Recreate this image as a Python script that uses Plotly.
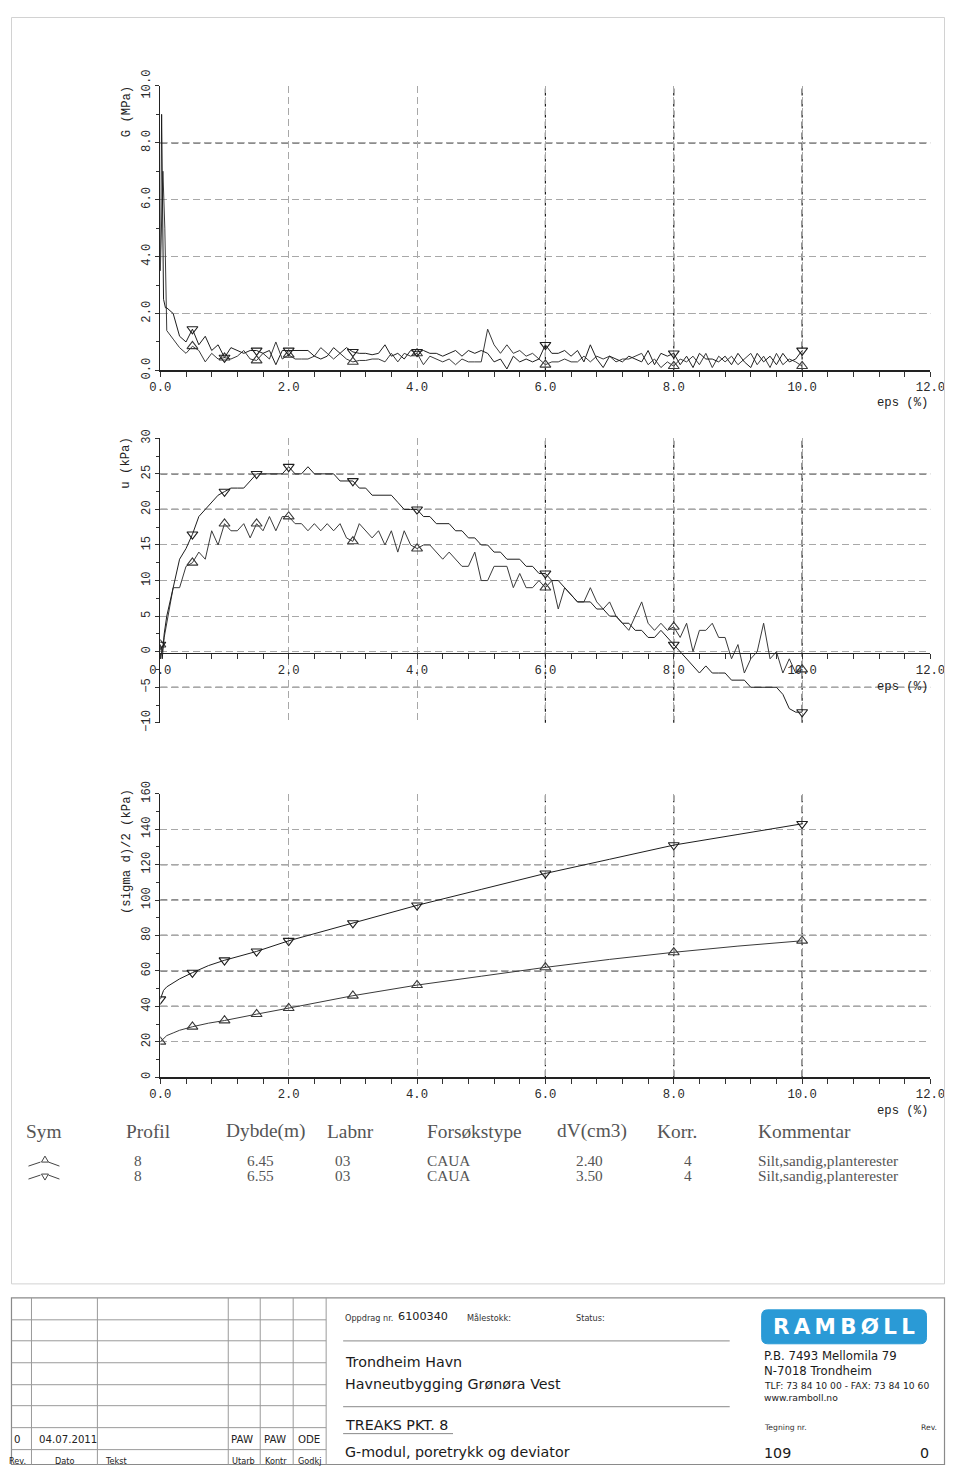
import plotly.graph_objects as go

W, H = 960, 1474

# ---------------- data ----------------
EPS_STEP = [0.1, 0.2, 0.3, 0.4, 0.5, 0.6, 0.7, 0.8, 0.9, 1.0,
            1.1, 1.2, 1.3, 1.4, 1.5, 1.6, 1.7, 1.8, 1.9, 2.0,
            2.1, 2.2, 2.3, 2.4, 2.5, 2.6, 2.7, 2.8, 2.9, 3.0,
            3.1, 3.2, 3.3, 3.4, 3.5, 3.6, 3.7, 3.8, 3.9, 4.0,
            4.1, 4.2, 4.3, 4.4, 4.5, 4.6, 4.7, 4.8, 4.9, 5.0,
            5.1, 5.2, 5.3, 5.4, 5.5, 5.6, 5.7, 5.8, 5.9, 6.0,
            6.1, 6.2, 6.3, 6.4, 6.5, 6.6, 6.7, 6.8, 6.9, 7.0,
            7.1, 7.2, 7.3, 7.4, 7.5, 7.6, 7.7, 7.8, 7.9, 8.0,
            8.1, 8.2, 8.3, 8.4, 8.5, 8.6, 8.7, 8.8, 8.9, 9.0,
            9.1, 9.2, 9.3, 9.4, 9.5, 9.6, 9.7, 9.8, 9.9, 10.0]

# G (MPa) -- "up" = triangle-up (6.45 m), "down" = triangle-down (6.55 m)
G_HEAD_EPS_DOWN = [0.0, 0.02, 0.05, 0.08]
G_HEAD_DOWN = [3.5, 9.0, 2.5, 2.2]
G_HEAD_EPS_UP = [0.0, 0.04, 0.07, 0.09]
G_HEAD_UP = [3.5, 7.0, 5.0, 1.6]
G_DOWN = [2.2, 2.0, 1.2, 1.0, 1.45, 0.9, 1.2, 0.7, 0.9, 0.45,
          0.8, 0.7, 0.6, 0.7, 0.7, 0.6, 0.7, 0.2, 0.7, 0.7,
          0.7, 0.7, 0.7, 0.5, 0.4, 0.5, 0.8, 0.6, 0.8, 0.65,
          0.6, 0.6, 0.55, 0.6, 0.9, 0.5, 0.6, 0.4, 0.7, 0.65,
          0.7, 0.6, 0.6, 0.5, 0.6, 0.7, 0.5, 0.7, 0.6, 0.7,
          0.6, 0.3, 0.4, 0.05, 0.5, 0.3, 0.4, 0.3, 0.4, 0.9,
          0.6, 0.6, 0.7, 0.5, 0.7, 0.3, 0.9, 0.4, 0.1, 0.5,
          0.4, 0.3, 0.5, 0.4, 0.3, 0.7, 0.2, 0.6, 0.5, 0.6,
          0.2, 0.5, 0.1, 0.6, 0.4, 0.4, 0.3, 0.5, 0.2, 0.6,
          0.3, 0.1, 0.6, 0.3, 0.5, 0.2, 0.6, 0.3, 0.4, 0.7]
G_UP = [1.4, 1.1, 0.8, 0.6, 0.85, 0.7, 0.3, 0.6, 0.4, 0.45,
        0.4, 0.5, 0.7, 0.4, 0.35, 0.6, 0.4, 1.0, 0.4, 0.55,
        0.4, 0.4, 0.4, 0.5, 0.8, 0.6, 0.4, 0.6, 0.4, 0.3,
        0.35, 0.35, 0.4, 0.4, 0.3, 0.6, 0.3, 0.6, 0.5, 0.6,
        0.2, 0.5, 0.4, 0.3, 0.4, 0.2, 0.4, 0.3, 0.3, 0.3,
        1.45, 0.9, 0.6, 0.9, 0.6, 0.7, 0.5, 0.6, 0.4, 0.2,
        0.3, 0.3, 0.4, 0.3, 0.3, 0.5, 0.3, 0.5, 0.4, 0.5,
        0.3, 0.4, 0.4, 0.5, 0.6, 0.2, 0.4, 0.1, 0.3, 0.15,
        0.4, 0.3, 0.5, 0.2, 0.6, 0.1, 0.5, 0.3, 0.5, 0.2,
        0.4, 0.6, 0.2, 0.5, 0.1, 0.6, 0.2, 0.4, 0.3, 0.15]

# u (kPa)
U_HEAD_EPS = [0.0, 0.03, 0.06]
U_HEAD_DOWN = [1.0, -1.0, 2.5]
U_HEAD_UP = [1.0, 0.0, 2.0]
U_DOWN = [5, 9, 13, 14.5, 16.5, 19, 20, 21, 22, 22.5,
          23, 23, 23, 24, 25, 25, 25, 25, 25, 26,
          25, 25, 26, 25, 25, 25, 25, 24, 24, 24,
          23, 23, 22, 22, 22, 22, 21, 20, 20, 20,
          19, 19, 18, 18, 18, 17, 17, 16, 16, 15,
          15, 14, 14, 13, 13, 13, 12, 12, 11, 11,
          10, 10, 9, 8, 7, 7, 7, 6, 6, 5,
          5, 4, 4, 3, 3, 2, 2, 3, 2, 1,
          0, -1, -2, -3, -2, -3, -3, -3, -4, -4,
          -4, -5, -5, -5, -5, -5, -6, -8, -8.5, -8.5]
U_UP = [4, 9, 9, 12, 12.5, 14, 13, 17, 15, 18,
        17, 17, 18, 16, 18, 17, 19, 17, 19, 19,
        18, 18, 17, 18, 17, 18, 17, 18, 16, 15.5,
        18, 17, 16, 17, 15, 17, 14, 17, 15, 14.5,
        15, 15, 14, 13, 14, 13, 12, 12, 14, 10,
        10, 12, 12, 12, 9, 11, 9, 9, 10, 9,
        10, 6, 9, 8, 7, 7, 9, 7, 6, 7,
        5, 4, 3, 5, 7, 4, 3, 4, 3, 3.5,
        2, 4, 0, 3, 3, 4, 2, 2, -1, 1,
        -3, -1, 0, 4, -1, 0, -3, -1, -3, -2.5]

# (sigma d)/2 (kPa)
S_EPS = [0.0, 0.05, 0.1, 0.2, 0.3, 0.5, 0.75, 1.0, 1.25, 1.5, 2.0, 2.5,
         3.0, 3.5, 4.0, 5.0, 6.0, 7.0, 8.0, 9.0, 10.0]
S_DOWN = [44, 49, 51, 53.5, 55.5, 59, 63, 66, 68.5, 71, 77, 82,
          87, 92, 97, 106, 115, 123, 131, 137, 143]
S_UP = [20, 22, 23.5, 25, 26.5, 28.5, 30.5, 32, 34, 35.6, 39, 42.5,
        46, 49, 52, 57, 62, 66.5, 70.5, 74, 77]

MARKER_EPS = [0.0, 0.5, 1.0, 1.5, 2.0, 3.0, 4.0, 6.0, 8.0, 10.0]

X_TICKS = [0, 2, 4, 6, 8, 10, 12]
X_TICK_TEXT = ["0.0", "2.0", "4.0", "6.0", "8.0", "10.0", "12.0"]

LEGEND_HEADERS = ["Sym", "Profil", "Dybde(m)", "Labnr", "Forsøkstype",
                  "dV(cm3)", "Korr.", "Kommentar"]
PROFIL = ["8", "8"]
DYBDE = ["6.45", "6.55"]
LABNR = ["03", "03"]
FORSOKSTYPE = ["CAUA", "CAUA"]
DV = ["2.40", "3.50"]
KORR = ["4", "4"]
KOMMENTAR = ["Silt,sandig,planterester", "Silt,sandig,planterester"]

# ---------------- helpers ----------------
# the photographed page shows the figure slightly inset/scaled; place
# everything so that it lands on the reference's pixel positions
OX, SX, OY, SY = 10.5, 0.974, 15.0, 0.984
FS = 1.02


def fx(x):
    return min(max((x - OX) / SX, 0.5), W - 0.5)


def fy(y):
    return min(max((y - OY) / SY, 0.5), H - 0.5)


def PX(x):
    return fx(x) / W


def PY(y):
    return 1 - fy(y) / H


def at(eps_list, vals, e):
    i = min(range(len(eps_list)), key=lambda k: abs(eps_list[k] - e))
    return vals[i]


MONO = "Liberation Mono"
SERIF = "Liberation Serif"
SANS = "DejaVu Sans"
LC_DOWN = "#1e1e1e"
LC_UP = "#3a3a3a"

fig = go.Figure()


def add_pair(xs, ys, mx, my, sym, color, xa, ya):
    fig.add_trace(go.Scatter(x=xs, y=ys, mode="lines", xaxis=xa, yaxis=ya,
                             line=dict(color=color, width=1), showlegend=False,
                             hoverinfo="skip"))
    fig.add_trace(go.Scatter(x=mx, y=my, mode="markers", xaxis=xa, yaxis=ya,
                             marker=dict(symbol=sym, size=9.5, color=color,
                                         line=dict(width=1.1, color=color)),
                             showlegend=False, hoverinfo="skip"))


gx_d = G_HEAD_EPS_DOWN + EPS_STEP
gy_d = G_HEAD_DOWN + G_DOWN
gx_u = G_HEAD_EPS_UP + EPS_STEP
gy_u = G_HEAD_UP + G_UP
mk_g = MARKER_EPS[1:]
add_pair(gx_u, gy_u, mk_g, [at(gx_u, gy_u, e) for e in mk_g], "triangle-up-open", LC_UP, "x", "y")
add_pair(gx_d, gy_d, mk_g, [at(gx_d, gy_d, e) for e in mk_g], "triangle-down-open", LC_DOWN, "x", "y")

ux = U_HEAD_EPS + EPS_STEP
uy_d = U_HEAD_DOWN + U_DOWN
uy_u = U_HEAD_UP + U_UP
add_pair(ux, uy_u, MARKER_EPS, [at(ux, uy_u, e) for e in MARKER_EPS], "triangle-up-open", LC_UP, "x2", "y2")
add_pair(ux, uy_d, MARKER_EPS, [at(ux, uy_d, e) for e in MARKER_EPS], "triangle-down-open", LC_DOWN, "x2", "y2")

add_pair(S_EPS, S_UP, MARKER_EPS, [at(S_EPS, S_UP, e) for e in MARKER_EPS], "triangle-up-open", LC_UP, "x3", "y3")
add_pair(S_EPS, S_DOWN, MARKER_EPS, [at(S_EPS, S_DOWN, e) for e in MARKER_EPS], "triangle-down-open", LC_DOWN, "x3", "y3")

# ---------------- axes ----------------
XDOM = [PX(160), PX(931)]
GRID = dict(showgrid=True, gridcolor="#a8a8a8", gridwidth=1, griddash="7px,4px")
TICKFONT = dict(family=MONO, size=12 * FS, color="#2a2a2a")


def xcfg(anchor, position=None):
    d = dict(domain=XDOM, range=[0, 12], tickvals=X_TICKS, ticktext=X_TICK_TEXT,
             showline=True, linecolor="#222", linewidth=1.3, zeroline=False,
             ticks="outside", ticklen=5, tickcolor="#333", tickfont=TICKFONT,
             minor=dict(dtick=0.4, tick0=0, ticks="outside", ticklen=5, tickcolor="#333", showgrid=False),
             fixedrange=True, **GRID)
    if position is None:
        d["anchor"] = anchor
    else:
        d["anchor"] = "free"
        d["position"] = position
    return d


def ycfg(anchor, dom, rng, dtick, minor, fmt):
    return dict(domain=dom, range=rng, dtick=dtick, tick0=rng[0], anchor=anchor,
                showline=True, linecolor="#222", linewidth=1.2, zeroline=False,
                ticks="outside", ticklen=4, tickcolor="#333", tickfont=TICKFONT,
                tickangle=-90, tickformat=fmt,
                minor=dict(dtick=minor, ticks="outside", ticklen=3, tickcolor="#333", showgrid=False),
                fixedrange=True, **GRID)


fig.update_layout(
    xaxis=xcfg("y"),
    yaxis=ycfg("x", [PY(369), PY(84)], [0, 10], 2, 1, ".1f"),
    xaxis2=xcfg("y2", position=PY(652)),
    yaxis2=ycfg("x2", [PY(722), PY(437)], [-10, 30], 5, 2.5, "d"),
    xaxis3=xcfg("y3"),
    yaxis3=ycfg("x3", [PY(1077), PY(793)], [0, 160], 20, 10, "d"),
)

# ---------------- shapes ----------------
shapes = []
DARK = dict(color="#1a1a1a", width=1.2, dash="7px,4px")
DARK_GRID = {
    ("x", "y"): ([6, 8, 10], [8, 2]),
    ("x2", "y2"): ([6, 8, 10], [25, 20, -5]),
    ("x3", "y3"): ([6, 8, 10], [120, 100, 80, 60, 40]),
}
for (xa, ya), (vx, vy) in DARK_GRID.items():
    for v in vx:
        shapes.append(dict(type="line", xref=xa, yref=ya + " domain", x0=v, x1=v, y0=0, y1=1,
                           line=DARK, layer="below"))
    for v in vy:
        shapes.append(dict(type="line", xref=xa + " domain", yref=ya, x0=0, x1=1, y0=v, y1=v,
                           line=DARK, layer="below"))


def pline(x0, y0, x1, y1, color="#9a9a9a", width=1):
    shapes.append(dict(type="line", xref="paper", yref="paper", x0=PX(x0), y0=PY(y0),
                       x1=PX(x1), y1=PY(y1), line=dict(color=color, width=width)))


shapes.append(dict(type="rect", xref="paper", yref="paper", x0=PX(2), x1=PX(958), y0=PY(1284), y1=PY(2),
                   line=dict(color="#d2d2d2", width=1)))
shapes.append(dict(type="rect", xref="paper", yref="paper", x0=PX(2), x1=PX(958), y0=PY(1472), y1=PY(1298),
                   line=dict(color="#8a8a8a", width=1.2)))
for yy in [1320, 1341, 1363, 1385, 1406, 1428, 1450]:
    pline(2, yy, 326, yy)
for xx in [31, 97, 228, 260, 293, 326]:
    pline(xx, 1298, xx, 1472)
pline(343, 1341, 730, 1341, "#a0a0a0", 1.2)
pline(343, 1407, 730, 1407, "#a0a0a0", 1.2)
pline(343, 1434, 453, 1434, "#888", 1)

for yb, up in [(1162, True), (1175, False)]:
    pline(28, yb + 4, 40, yb, "#444", 1)
    pline(48, yb, 59, yb + 4, "#444", 1)
    if up:
        pts = [(41, yb), (44.5, yb - 6), (48, yb)]
    else:
        pts = [(41, yb - 1), (48, yb - 1), (44.5, yb + 5)]
    path = "M " + " L ".join(f"{PX(a)},{PY(b)}" for a, b in pts) + " Z"
    shapes.append(dict(type="path", xref="paper", yref="paper", path=path,
                       line=dict(color="#444", width=1)))

lx0, lx1, ly0, ly1, r = 762, 927, 1310, 1344, 6
logo_pts = (f"M {PX(lx0 + r)},{PY(ly0)} L {PX(lx1 - r)},{PY(ly0)} "
            f"Q {PX(lx1)},{PY(ly0)} {PX(lx1)},{PY(ly0 + r)} L {PX(lx1)},{PY(ly1 - r)} "
            f"Q {PX(lx1)},{PY(ly1)} {PX(lx1 - r)},{PY(ly1)} L {PX(lx0 + r)},{PY(ly1)} "
            f"Q {PX(lx0)},{PY(ly1)} {PX(lx0)},{PY(ly1 - r)} L {PX(lx0)},{PY(ly0 + r)} "
            f"Q {PX(lx0)},{PY(ly0)} {PX(lx0 + r)},{PY(ly0)} Z")
shapes.append(dict(type="path", xref="paper", yref="paper", path=logo_pts,
                   fillcolor="#2a9ad6", line=dict(color="#2a9ad6", width=1)))

fig.update_layout(shapes=shapes)

# ---------------- annotations ----------------
ann = []


def txt(x, y, s, size, family, color="#222", xanchor="left", yanchor="middle", angle=0, bold=False):
    if bold:
        s = "<b>" + s + "</b>"
    ann.append(dict(x=PX(x), y=PY(y), xref="paper", yref="paper", text=s, showarrow=False,
                    xanchor=xanchor, yanchor=yanchor, textangle=angle,
                    font=dict(size=size * FS, family=family, color=color)))


txt(126, 110, "G (MPa)", 12, MONO, "#222", "center", "middle", -90)
txt(126, 462, "u (kPa)", 12, MONO, "#222", "center", "middle", -90)
txt(126, 851, "(sigma d)/2 (kPa)", 12, MONO, "#222", "center", "middle", -90)
for yy in [402, 686, 1111]:
    txt(931, yy, "eps (%)", 12, MONO, "#222", "right", "middle")

hx = [24, 124, 224, 325, 425, 555, 655, 756]
for x, h in zip(hx, LEGEND_HEADERS):
    txt(x, 1131, h, 19, SERIF, "#555")
for i, yy in enumerate([1160, 1175]):
    txt(138, yy, PROFIL[i], 15, SERIF, "#555", "center")
    txt(260, yy, DYBDE[i], 15, SERIF, "#555", "center")
    txt(343, yy, LABNR[i], 15, SERIF, "#555", "center")
    txt(425, yy, FORSOKSTYPE[i], 15, SERIF, "#555")
    txt(590, yy, DV[i], 15, SERIF, "#555", "center")
    txt(688, yy, KORR[i], 15, SERIF, "#555", "center")
    txt(756, yy, KOMMENTAR[i], 15, SERIF, "#555")

txt(343, 1318, "Oppdrag nr.", 8, SANS, "#333")
txt(396, 1317, "6100340", 11, SANS, "#222")
txt(465, 1318, "Målestokk:", 8, SANS, "#333")
txt(574, 1318, "Status:", 8, SANS, "#333")
txt(343, 1362, "Trondheim Havn", 14, SANS, "#1a1a1a")
txt(343, 1384, "Havneutbygging Grønøra Vest", 14, SANS, "#1a1a1a")
txt(343, 1425, "TREAKS PKT. 8", 14, SANS, "#1a1a1a")
txt(343, 1452, "G-modul, poretrykk og deviator", 14, SANS, "#1a1a1a")
txt(844.5, 1327, "R\u2009A\u2009M\u2009B\u2009Ø\u2009L\u2009L", 21, SANS, "#ffffff", "center", "middle", bold=True)
txt(762, 1356, "P.B. 7493 Mellomila 79", 11.5, SANS, "#1a1a1a")
txt(762, 1371, "N-7018 Trondheim", 11.5, SANS, "#1a1a1a")
txt(762, 1386, "TLF: 73 84 10 00 - FAX: 73 84 10 60", 9, SANS, "#1a1a1a")
txt(762, 1398, "www.ramboll.no", 9, SANS, "#1a1a1a")
txt(762, 1428, "Tegning nr.", 7.5, SANS, "#333")
txt(940, 1428, "Rev.", 7.5, SANS, "#333", "right")
txt(762, 1453, "109", 14, SANS, "#1a1a1a")
txt(932, 1453, "0", 14, SANS, "#1a1a1a", "right")

txt(17, 1440, "0", 10, SANS, "#222", "center")
txt(37, 1440, "04.07.2011", 10, SANS, "#222")
txt(242, 1440, "PAW", 10, SANS, "#222", "center")
txt(275, 1440, "PAW", 10, SANS, "#222", "center")
txt(309, 1440, "ODE", 10, SANS, "#222", "center")
for x, s in [(17, "Rev."), (64, "Dato"), (103, "Tekst"), (243, "Utarb"), (276, "Kontr"), (309, "Godkj")]:
    txt(x, 1461, s, 8, SANS, "#222", "left" if s == "Tekst" else "center")

fig.update_layout(annotations=ann)

fig.update_layout(width=W, height=H, margin=dict(l=0, r=0, t=0, b=0),
                  paper_bgcolor="white", plot_bgcolor="rgba(0,0,0,0)", showlegend=False)

POST = ("document.documentElement.style.margin='0';document.body.style.margin='0';"
        "document.body.style.padding='0';document.documentElement.style.overflow='hidden';"
        "var d=document.getElementById('{plot_id}');d.style.position='absolute';"
        "d.style.left='0px';d.style.top='0px';window.scrollTo(0,0);")
fig.write_html("out.html", config={"displayModeBar": False, "staticPlot": True},
               post_script=POST)
